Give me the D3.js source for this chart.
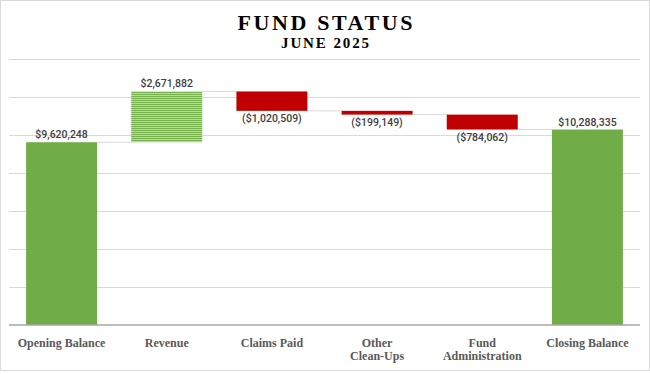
<!DOCTYPE html>
<html>
  <head>
    <meta charset="utf-8">
    <title>Fund Status</title>
    <script src="https://cdn.jsdelivr.net/npm/d3@7"></script>
    <style media="screen">
      body {
        margin: 0;
        background: #fff;
      }
      svg {
        display: block;
      }
      .title {
        font-family: "Liberation Serif", "Times New Roman", serif;
        font-weight: bold;
        fill: #000;
      }
      .cat {
        font-family: "Liberation Serif", "Times New Roman", serif;
        font-weight: bold;
        font-size: 12px;
        fill: #595959;
      }
      .val {
        font-family: Roboto, "Liberation Sans", sans-serif;
        font-weight: 500;
        font-size: 10.5px;
        fill: #404040;
      }
      .grid line {
        stroke: #d9d9d9;
      }
    </style>
  </head>
  <body>
    <script type="text/javascript">

    const categories = ["Opening Balance", "Revenue", "Claims Paid", "Other Clean-Ups", "Fund Administration", "Closing Balance"];
    const categoryLines = [["Opening Balance"], ["Revenue"], ["Claims Paid"], ["Other", "Clean-Ups"], ["Fund", "Administration"], ["Closing Balance"]];
    const amounts = [9620248, 2671882, -1020509, -199149, -784062, 10288335];
    const kinds = ["total", "increase", "decrease", "decrease", "decrease", "total"];
    const yTicks = [0, 2000000, 4000000, 6000000, 8000000, 10000000, 12000000, 14000000];

    const W = 650, H = 374;
    let margin = {top: 59, right: 10, left: 9, bottom: 49};
    let plotLeft = margin.left, plotRight = W - margin.right,
        plotTop = margin.top, plotBottom = H - margin.bottom;

    // running totals -> floating bar extents
    let running = 0;
    let bars = categories.map((c, i) => {
      let v = amounts[i], y0, y1;
      if (kinds[i] === "total") { y0 = 0; y1 = v; running = v; }
      else { y0 = running; y1 = running + v; running = y1; }
      return {cat: c, lines: categoryLines[i], value: v, kind: kinds[i], y0: y0, y1: y1, level: running};
    });

    let svg = d3.select('body').append('svg')
      .attr('width', W)
      .attr('height', H);

    let defs = svg.append('defs');
    let pat = defs.append('pattern')
      .attr('id', 'stripes')
      .attr('patternUnits', 'userSpaceOnUse')
      .attr('width', 4).attr('height', 2);
    pat.append('rect').attr('width', 4).attr('height', 2).attr('fill', '#b7d99f');
    pat.append('rect').attr('width', 4).attr('height', 1).attr('fill', '#78b24f');

    // chart border
    svg.append('rect')
      .attr('x', 0.5).attr('y', 0.5)
      .attr('width', W - 1).attr('height', 370)
      .attr('fill', '#fff')
      .attr('stroke', '#d9d9d9');

    let x = d3.scaleBand()
      .domain(categories)
      .range([plotLeft, plotRight])
      .paddingInner(0.325)
      .paddingOuter(0.1625);

    let y = d3.scaleLinear()
      .domain([0, 14000000])
      .range([plotBottom, plotTop]);

    // gridlines
    svg.append('g')
      .attr('class', 'grid')
      .selectAll('line')
      .data(yTicks.slice(1)).enter()
      .append('line')
      .attr('x1', plotLeft).attr('x2', plotRight)
      .attr('y1', d => Math.round(y(d)) + 0.5)
      .attr('y2', d => Math.round(y(d)) + 0.5);

    // connectors
    svg.append('g')
      .selectAll('line')
      .data(bars.slice(0, -1)).enter()
      .append('line')
      .attr('x1', d => x(d.cat) + x.bandwidth())
      .attr('x2', (d, i) => x(bars[i + 1].cat))
      .attr('y1', d => y(d.level))
      .attr('y2', d => y(d.level))
      .attr('stroke', '#d9d9d9')
      .attr('stroke-width', 1);

    // bars
    svg.selectAll('.bar')
      .data(bars).enter()
      .append('rect')
      .attr('class', 'bar')
      .attr('x', d => x(d.cat))
      .attr('width', x.bandwidth())
      .attr('y', d => y(Math.max(d.y0, d.y1)))
      .attr('height', d => Math.abs(y(d.y0) - y(d.y1)))
      .attr('fill', d => d.kind === "total" ? '#70ad47' : d.kind === "increase" ? 'url(#stripes)' : '#c00000');

    // baseline axis
    svg.append('line')
      .attr('x1', plotLeft).attr('x2', plotRight)
      .attr('y1', plotBottom).attr('y2', plotBottom)
      .attr('stroke', '#a6a6a6')
      .attr('stroke-width', 1.5);

    // value labels
    let fmt = d3.format("$,");
    svg.selectAll('.val')
      .data(bars).enter()
      .append('text')
      .attr('class', 'val')
      .attr('text-anchor', 'middle')
      .attr('x', d => x(d.cat) + x.bandwidth() / 2)
      .attr('y', d => d.value >= 0 ? y(Math.max(d.y0, d.y1)) - 4 : y(Math.min(d.y0, d.y1)) + 11)
      .text(d => d.value >= 0 ? fmt(d.value) : "(" + fmt(-d.value) + ")");

    // category labels
    let cat = svg.selectAll('.cat')
      .data(bars).enter()
      .append('text')
      .attr('class', 'cat')
      .attr('text-anchor', 'middle')
      .attr('x', d => x(d.cat) + x.bandwidth() / 2)
      .attr('y', 347);
    cat.selectAll('tspan')
      .data(d => d.lines.map(l => ({t: l, cx: x(d.cat) + x.bandwidth() / 2}))).enter()
      .append('tspan')
      .attr('x', d => d.cx)
      .attr('dy', (d, i) => i ? 13 : 0)
      .text(d => d.t);

    // titles
    svg.append('text')
      .attr('class', 'title')
      .attr('x', W / 2 + 1.3)
      .attr('y', 30)
      .attr('text-anchor', 'middle')
      .style('font-size', '22px')
      .style('letter-spacing', '2.6px')
      .text('FUND STATUS');

    svg.append('text')
      .attr('class', 'title')
      .attr('x', W / 2 + 1)
      .attr('y', 48)
      .attr('text-anchor', 'middle')
      .style('font-size', '15px')
      .style('letter-spacing', '1.9px')
      .text('JUNE 2025');

    </script>
  </body>
</html>
